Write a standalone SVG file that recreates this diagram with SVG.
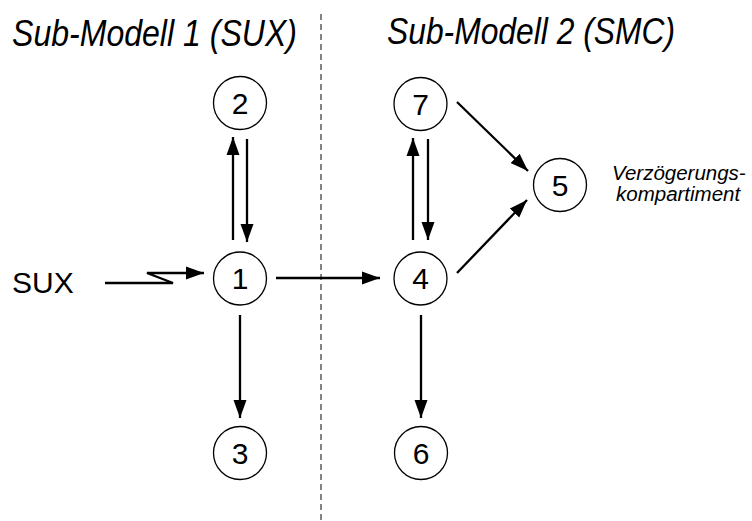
<svg xmlns="http://www.w3.org/2000/svg" width="752" height="521" viewBox="0 0 752 521">
<style>
.node circle{fill:#fff;stroke:#000;stroke-width:1.3}
.node text{font-family:"Liberation Sans",Arial,sans-serif;font-size:30px;text-anchor:middle;fill:#000}
.title{font-family:"Liberation Sans",Arial,sans-serif;font-size:37px;font-style:italic;fill:#000}
.lbl{font-family:"Liberation Sans",Arial,sans-serif;font-size:20.5px;font-style:italic;fill:#000}
.edge{stroke:#000;stroke-width:2.3;fill:none;marker-end:url(#ah)}
</style>
<defs>
<marker id="ah" markerUnits="userSpaceOnUse" markerWidth="20" markerHeight="16" viewBox="0 0 20 16" refX="18" refY="8" orient="auto">
<path d="M0,1.5 L18,8 L0,14.5 Z" fill="#000"/>
</marker>
</defs>
<rect width="752" height="521" fill="#fff"/>
<line x1="321" y1="14" x2="321" y2="521" stroke="#333" stroke-width="1.2" stroke-dasharray="6,4"/>
<text class="title" x="12" y="46" textLength="285" lengthAdjust="spacingAndGlyphs">Sub-Modell 1 (SUX)</text>
<text class="title" x="387" y="44" textLength="288" lengthAdjust="spacingAndGlyphs">Sub-Modell 2 (SMC)</text>
<text class="lbl" x="612" y="180">Verzögerungs-</text>
<text class="lbl" x="616" y="201">kompartiment</text>
<text x="12" y="293" font-family="Liberation Sans,Arial,sans-serif" font-size="30">SUX</text>
<g id="connectors">
<path class="edge" d="M105,283 L173,283 L147,273 L204,273"/>
<line class="edge" x1="233" y1="240" x2="233" y2="137"/>
<line class="edge" x1="247" y1="139" x2="247" y2="242"/>
<line class="edge" x1="276" y1="278" x2="380" y2="278"/>
<line class="edge" x1="240" y1="315" x2="240" y2="418"/>
<line class="edge" x1="413" y1="240" x2="413" y2="138"/>
<line class="edge" x1="428" y1="139" x2="428" y2="240"/>
<line class="edge" x1="421" y1="315" x2="421" y2="418"/>
<line class="edge" x1="457" y1="102" x2="528" y2="171"/>
<line class="edge" x1="457" y1="273" x2="527" y2="200"/>
</g>
<g id="n2" class="node"><circle cx="240" cy="103" r="26.5"/><text x="240" y="113.5">2</text></g>
<g id="n1" class="node"><circle cx="240" cy="278.5" r="26.5"/><text x="240" y="289">1</text></g>
<g id="n3" class="node"><circle cx="240" cy="453" r="26.5"/><text x="240" y="463.5">3</text></g>
<g id="n7" class="node"><circle cx="420.5" cy="104" r="26.5"/><text x="420.5" y="114.5">7</text></g>
<g id="n4" class="node"><circle cx="420.5" cy="278.5" r="26.5"/><text x="420.5" y="289">4</text></g>
<g id="n6" class="node"><circle cx="421" cy="453" r="26.5"/><text x="421" y="463.5">6</text></g>
<g id="n5" class="node"><circle cx="560" cy="185" r="26.5"/><text x="560" y="195.5">5</text></g>
</svg>
